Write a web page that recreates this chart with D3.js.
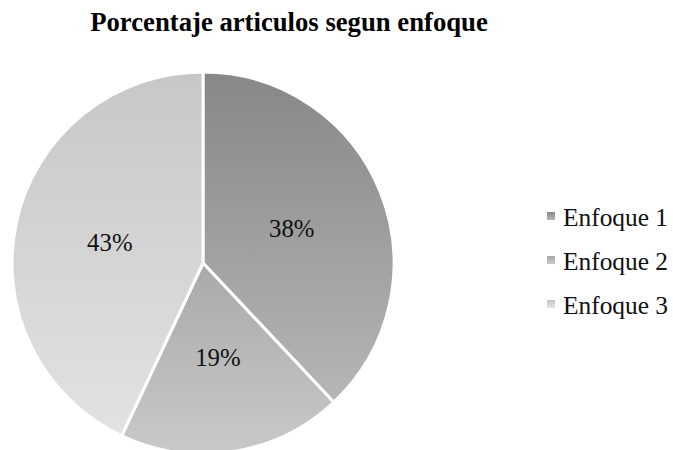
<!DOCTYPE html>
<html><head><meta charset="utf-8">
<script src="https://cdn.jsdelivr.net/npm/d3@7"></script>
<style>body{margin:0;background:#fff}svg{display:block}</style>
</head><body>
<script>
const title = "Porcentaje articulos segun enfoque";
const categories = ["Enfoque 1", "Enfoque 2", "Enfoque 3"];
const values = [38, 19, 43];
const colorTop = ["#878787", "#a9a9a9", "#c7c7c7"];
const colorBottom = ["#b6b6b6", "#c9c9c9", "#e2e2e2"];

const W = 673, H = 450;
const svg = d3.select("body").append("svg").attr("width", W).attr("height", H);
const defs = svg.append("defs");
categories.forEach((c, i) => {
  const g = defs.append("linearGradient").attr("id", "g" + i)
    .attr("x1", 0).attr("y1", 0).attr("x2", 0).attr("y2", 1);
  g.append("stop").attr("offset", "0%").attr("stop-color", colorTop[i]);
  g.append("stop").attr("offset", "100%").attr("stop-color", colorBottom[i]);
});

svg.append("text").attr("x", 289).attr("y", 31).attr("text-anchor", "middle")
  .style("font-family", "'Liberation Serif', 'Times New Roman', serif")
  .style("font-weight", "bold").style("font-size", "26.7px").text(title);

const cx = 203, cy = 263, r = 191;
const pie = d3.pie().sort(null).value(d => d)(values);
const arc = d3.arc().innerRadius(0).outerRadius(r);
const g = svg.append("g").attr("transform", `translate(${cx},${cy})`);
g.selectAll("path").data(pie).join("path")
  .attr("d", arc).attr("fill", (d, i) => `url(#g${i})`)
  .attr("stroke", "#fff").attr("stroke-width", 3).attr("stroke-linejoin", "round");
g.selectAll("text").data(pie).join("text")
  .attr("transform", d => `translate(${arc.centroid(d)})`)
  .attr("text-anchor", "middle").attr("dy", "0.35em")
  .style("font-family", "'Liberation Serif', 'Times New Roman', serif")
  .style("font-size", "24.8px").attr("fill", "#111")
  .text(d => d.data + "%");

const leg = svg.append("g");
categories.forEach((c, i) => {
  const y = 217 + i * 44;
  leg.append("rect").attr("x", 547).attr("y", y - 5).attr("width", 8).attr("height", 8)
    .attr("fill", `url(#g${i})`);
  leg.append("text").attr("x", 563).attr("y", y).attr("dy", "0.35em")
    .style("font-family", "'Liberation Serif', 'Times New Roman', serif")
    .style("font-size", "25.4px").attr("fill", "#111").text(c);
});
</script>
</body></html>
